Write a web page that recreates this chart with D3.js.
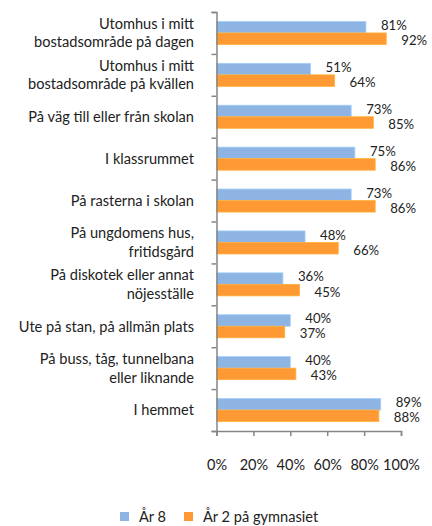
<!DOCTYPE html>
<html>
<head>
<meta charset="utf-8">
<script src="https://cdn.jsdelivr.net/npm/d3@7"></script>
<style>
  body { margin: 0; background: #fff; }
  text { font-family: Lato, "Open Sans", sans-serif; fill: #222; }
</style>
</head>
<body>
<div id="chart"></div>
<script>
var categories = [
    ['Utomhus i mitt', 'bostadsområde på dagen'],
    ['Utomhus i mitt', 'bostadsområde på kvällen'],
    ['På väg till eller från skolan'],
    ['I klassrummet'],
    ['På rasterna i skolan'],
    ['På ungdomens hus,', 'fritidsgård'],
    ['På diskotek eller annat', 'nöjesställe'],
    ['Ute på stan, på allmän plats'],
    ['På buss, tåg, tunnelbana', 'eller liknande'],
    ['I hemmet']
];
var seriesNames = ['År 8', 'År 2 på gymnasiet'];
var ar8 = [81, 51, 73, 75, 73, 48, 36, 40, 40, 89];
var gymn = [92, 64, 85, 86, 86, 66, 45, 37, 43, 88];
var xTicks = [0, 20, 40, 60, 80, 100];
var colors = ['#8DB4E2', '#FF9933'];

var width = 432, height = 526;
var margin = {top: 12, right: 31, bottom: 95, left: 216.5};

var svg = d3.select('#chart').append('svg')
    .attr('width', width)
    .attr('height', height);

var xScale = d3.scaleLinear()
    .domain([0, 100])
    .range([margin.left, width - margin.right]);

var yScale = d3.scaleBand()
    .domain(d3.range(categories.length))
    .range([margin.top, height - margin.bottom])
    .paddingInner(0.45)
    .paddingOuter(0.225);

var sub = d3.scaleBand()
    .domain([0, 1])
    .range([0, yScale.bandwidth()]);

var plotBottom = height - margin.bottom;

// bars and labels
var data = [ar8, gymn];
var labelShift = [-1.8, 1.8];
data.forEach((vals, s) => {
    svg.append('g').selectAll('rect')
        .data(vals)
        .enter().append('rect')
        .attr('x', xScale(0))
        .attr('y', (d, i) => yScale(i) + sub(s))
        .attr('width', d => xScale(d) - xScale(0))
        .attr('height', sub.bandwidth())
        .attr('fill', colors[s])
        .attr('stroke', d3.color(colors[s]).brighter(0.4))
        .attr('stroke-width', 0.8);

    svg.append('g').selectAll('text')
        .data(vals)
        .enter().append('text')
        .attr('x', d => xScale(d) + 15)
        .attr('y', (d, i) => yScale(i) + sub(s) + sub.bandwidth() / 2 + labelShift[s])
        .attr('dy', '0.35em')
        .style('font-size', '13.2px')
        .text(d => d + '%');
});

// category labels
var catG = svg.append('g');
categories.forEach((lines, i) => {
    var cy = yScale(i) + yScale.bandwidth() / 2;
    var t = catG.append('text')
        .attr('text-anchor', 'end')
        .style('font-size', '14.6px');
    lines.forEach((ln, j) => {
        t.append('tspan')
            .attr('x', 194)
            .attr('y', cy + (j - (lines.length - 1) / 2) * 18.5)
            .attr('dy', '0.36em')
            .text(ln);
    });
});

// y axis
var yAxis = d3.axisLeft(d3.scaleLinear().domain([0, categories.length]).range([margin.top, plotBottom]))
    .ticks(categories.length)
    .tickSize(5)
    .tickFormat('');

svg.append('g')
    .attr('transform', `translate(${margin.left}, 0)`)
    .call(yAxis)
    .call(g => g.selectAll('line, path').attr('stroke', '#868686').attr('stroke-width', 1.5));

// x axis
var xAxis = d3.axisBottom(xScale)
    .tickValues(xTicks)
    .tickSize(5)
    .tickPadding(24)
    .tickFormat(d => d + '%');

svg.append('g')
    .attr('transform', `translate(0, ${plotBottom})`)
    .call(xAxis)
    .call(g => g.selectAll('line, path').attr('stroke', '#868686').attr('stroke-width', 1.5))
    .call(g => g.selectAll('text').style('font-size', '14.5px').attr('fill', '#222')
        .style('font-family', 'Lato, "Open Sans", sans-serif'));

// legend
var legendX = [120, 184];
var legend = svg.append('g');
seriesNames.forEach((name, i) => {
    legend.append('rect')
        .attr('x', legendX[i])
        .attr('y', 512)
        .attr('width', 9)
        .attr('height', 9)
        .attr('fill', colors[i]);
    legend.append('text')
        .attr('x', legendX[i] + 19)
        .attr('y', 517)
        .attr('dy', '0.36em')
        .style('font-size', '14.6px')
        .text(name);
});
</script>
</body>
</html>
